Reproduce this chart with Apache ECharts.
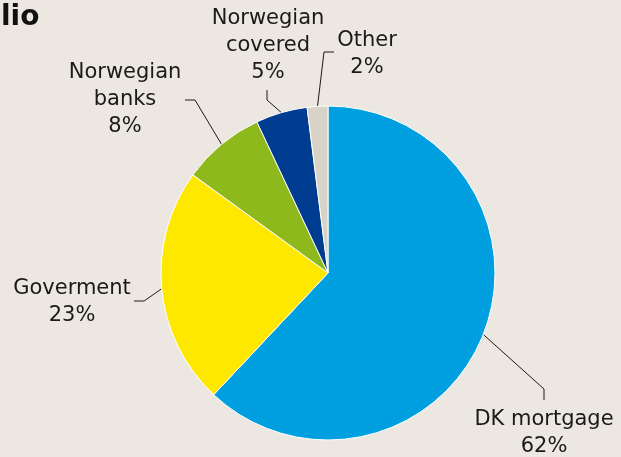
<!DOCTYPE html>
<html>
<head>
<meta charset="utf-8">
<script src="https://cdn.jsdelivr.net/npm/echarts@6/dist/echarts.min.js"></script>
<style>
  html, body { margin: 0; padding: 0; background: #ECE8E1; }
  #chart { width: 621px; height: 457px; }
</style>
</head>
<body>
<div id="chart"></div>
<script>
// data (percent of portfolio)
const names = ['DK mortgage', 'Goverment', 'Norwegian\nbanks', 'Norwegian\ncovered', 'Other']
const values = [62, 23, 8, 5, 2]
const colors = ['#009FE0', '#FFE800', '#8DB91C', '#003C8F', '#D8D3C6']

// label box centre and leader line elbow / end, one row per slice
const labelPos = [
  [544, 433, 544, 389, 544, 400],
  [72, 302, 144, 301, 134, 301],
  [125, 100, 195, 100, 185, 100],
  [268, 46, 267, 100, 267, 90],
  [367, 54, 324, 52, 334, 52]
]

let myChart = echarts.init(document.getElementById('chart'))
myChart.setOption({
  backgroundColor: '#ECE8E1',
  animation: false,
  title: {
    text: 'lio',
    left: -4,
    top: -1,
    textStyle: { fontFamily: 'DejaVu Sans', fontWeight: 'bold', fontSize: 28, color: '#111' }
  },
  series: [
    {
      type: 'pie',
      center: [328, 273],
      radius: 167,
      startAngle: 90,
      clockwise: true,
      avoidLabelOverlap: false,
      itemStyle: { borderColor: '#fff', borderWidth: 1 },
      label: {
        show: true,
        position: 'outside',
        formatter: '{b}\n{c}%',
        fontFamily: 'DejaVu Sans',
        fontSize: 21,
        lineHeight: 27,
        color: '#1a1a1a',
        align: 'center'
      },
      labelLine: {
        show: true,
        length: 10,
        length2: 10,
        lineStyle: { color: '#1a1a1a', width: 1 }
      },
      labelLayout: function (params) {
        let p = labelPos[params.dataIndex]
        let start = params.labelLinePoints ? params.labelLinePoints[0] : [p[2], p[3]]
        return {
          x: p[0],
          y: p[1],
          align: 'center',
          verticalAlign: 'middle',
          labelLinePoints: [start, [p[2], p[3]], [p[4], p[5]]]
        }
      },
      data: names.map((n, i) => ({
        name: n,
        value: values[i],
        itemStyle: { color: colors[i] }
      }))
    }
  ]
})
</script>
</body>
</html>
